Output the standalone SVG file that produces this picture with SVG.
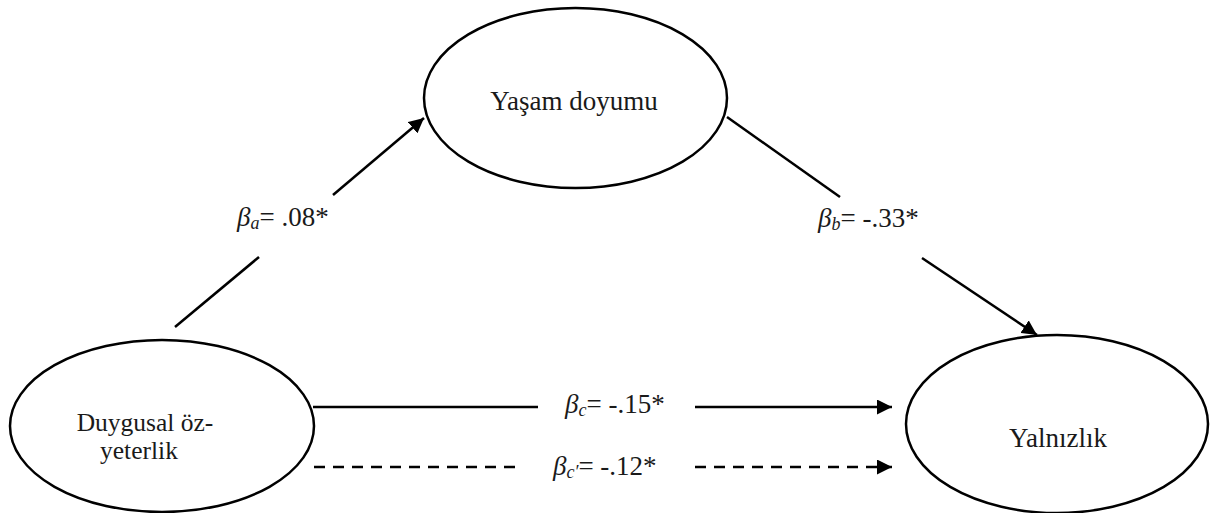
<svg xmlns="http://www.w3.org/2000/svg" width="1210" height="513" viewBox="0 0 1210 513">
<style>
.node{fill:#fff;stroke:#000;stroke-width:2.5}
.edge{stroke:#000;stroke-width:2.5;fill:none}
.dash{stroke-dasharray:11 8}
text{font-family:'Liberation Serif','Times New Roman',serif;font-size:27px;fill:#1a1a1a}
.b{font-style:italic}
.sub{font-style:italic;font-size:18px}
</style>
<defs>
<marker id="arr" markerUnits="userSpaceOnUse" markerWidth="16" markerHeight="15" refX="15" refY="7.5" orient="auto">
<path d="M0,0 L15,7.5 L0,15 z" fill="#000"/>
</marker>
</defs>
<rect width="1210" height="513" fill="#fff"/>
<g id="connectors">
<line class="edge" x1="175" y1="327" x2="259" y2="257"/>
<line class="edge" x1="333" y1="195" x2="424" y2="118" marker-end="url(#arr)"/>
<line class="edge" x1="727" y1="117" x2="840" y2="197"/>
<line class="edge" x1="922" y1="258" x2="1037" y2="335" marker-end="url(#arr)"/>
<line class="edge" x1="313" y1="407" x2="538" y2="407"/>
<line class="edge" x1="695" y1="407" x2="892" y2="407" marker-end="url(#arr)"/>
<line class="edge dash" x1="314" y1="467" x2="522" y2="467"/>
<line class="edge dash" x1="695" y1="467" x2="892" y2="467" marker-end="url(#arr)"/>
<text x="237" y="226"><tspan class="b">β</tspan><tspan class="sub" dy="3">a</tspan><tspan dy="-3">= .08*</tspan></text>
<text x="818" y="227"><tspan class="b">β</tspan><tspan class="sub" dy="3">b</tspan><tspan dy="-3">= -.33*</tspan></text>
<text x="565" y="413"><tspan class="b">β</tspan><tspan class="sub" dy="3">c</tspan><tspan dy="-3">= -.15*</tspan></text>
<text x="553" y="475"><tspan class="b">β</tspan><tspan class="sub" dy="3">c′</tspan><tspan dy="-3">= -.12*</tspan></text>
</g>
<g id="node-yasam">
<ellipse class="node" cx="575.5" cy="98" rx="151.5" ry="90"/>
<text x="574" y="110" text-anchor="middle">Yaşam doyumu</text>
</g>
<g id="node-duygusal">
<ellipse class="node" cx="162" cy="426" rx="152" ry="86"/>
<text x="145" y="431" text-anchor="middle" style="font-size:25.5px">Duygusal öz-</text>
<text x="139" y="459" text-anchor="middle" style="font-size:25.5px">yeterlik</text>
</g>
<g id="node-yalnizlik">
<ellipse class="node" cx="1057" cy="424" rx="151" ry="89"/>
<text x="1058" y="447" text-anchor="middle">Yalnızlık</text>
</g>
</svg>
